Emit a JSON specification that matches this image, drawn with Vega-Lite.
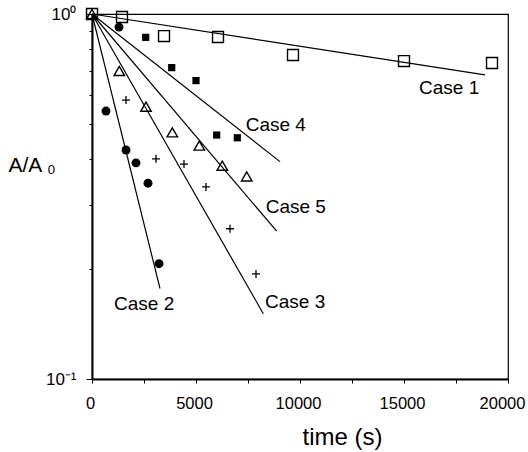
{
  "$schema": "https://vega.github.io/schema/vega-lite/v6.json",
  "autosize": {"type": "none"},
  "padding": {"left": 92, "top": 14, "right": 20, "bottom": 73},
  "width": 416,
  "height": 365,
  "background": "white",
  "config": {
    "font": "Liberation Sans",
    "view": {"stroke": "black", "strokeWidth": 1.2},
    "axis": {"domainColor": "black", "domainWidth": 2, "tickColor": "black", "labelColor": "black", "titleColor": "black", "grid": false, "labelFont": "Liberation Sans", "titleFont": "Liberation Sans", "titleFontWeight": "normal"}
  },
  "datasets": {
    "points": [
      {"case": "Case 1", "t": 0, "r": 1.0},
      {"case": "Case 1", "t": 1442, "r": 0.981},
      {"case": "Case 1", "t": 3462, "r": 0.870},
      {"case": "Case 1", "t": 6058, "r": 0.865},
      {"case": "Case 1", "t": 9663, "r": 0.772},
      {"case": "Case 1", "t": 15000, "r": 0.743},
      {"case": "Case 1", "t": 19231, "r": 0.734},
      {"case": "Case 2", "t": 673, "r": 0.542},
      {"case": "Case 2", "t": 1298, "r": 0.921},
      {"case": "Case 2", "t": 1635, "r": 0.424},
      {"case": "Case 2", "t": 2115, "r": 0.391},
      {"case": "Case 2", "t": 2692, "r": 0.344},
      {"case": "Case 2", "t": 3221, "r": 0.207},
      {"case": "Case 3", "t": 1635, "r": 0.581},
      {"case": "Case 3", "t": 3077, "r": 0.401},
      {"case": "Case 3", "t": 4423, "r": 0.388},
      {"case": "Case 3", "t": 5481, "r": 0.336},
      {"case": "Case 3", "t": 6635, "r": 0.258},
      {"case": "Case 3", "t": 7885, "r": 0.194},
      {"case": "Case 4", "t": 2582, "r": 0.863},
      {"case": "Case 4", "t": 3832, "r": 0.713},
      {"case": "Case 4", "t": 5000, "r": 0.657},
      {"case": "Case 4", "t": 5995, "r": 0.466},
      {"case": "Case 4", "t": 6986, "r": 0.458},
      {"case": "Case 5", "t": 0, "r": 1.0},
      {"case": "Case 5", "t": 1313, "r": 0.698},
      {"case": "Case 5", "t": 2596, "r": 0.557},
      {"case": "Case 5", "t": 3861, "r": 0.474},
      {"case": "Case 5", "t": 5159, "r": 0.436},
      {"case": "Case 5", "t": 6264, "r": 0.384},
      {"case": "Case 5", "t": 7438, "r": 0.359}
    ],
    "fits": [
      {"case": "Case 1", "t": 0, "r": 1.0},
      {"case": "Case 1", "t": 18894, "r": 0.681},
      {"case": "Case 2", "t": 0, "r": 1.0},
      {"case": "Case 2", "t": 3269, "r": 0.177},
      {"case": "Case 3", "t": 0, "r": 1.0},
      {"case": "Case 3", "t": 8236, "r": 0.151},
      {"case": "Case 4", "t": 0, "r": 1.0},
      {"case": "Case 4", "t": 9038, "r": 0.394},
      {"case": "Case 5", "t": 0, "r": 1.0},
      {"case": "Case 5", "t": 8880, "r": 0.254}
    ],
    "labels": [
      {"case": "Case 1", "t": 15721, "r": 0.627},
      {"case": "Case 2", "t": 1058, "r": 0.160},
      {"case": "Case 3", "t": 8317, "r": 0.163},
      {"case": "Case 4", "t": 7389, "r": 0.496},
      {"case": "Case 5", "t": 8351, "r": 0.296}
    ]
  },
  "encoding": {
    "x": {
      "field": "t", "type": "quantitative",
      "scale": {"domain": [0, 20000], "nice": false, "zero": false},
      "axis": {
        "title": "time (s)", "titleFontSize": 24, "titleX": 250, "titleY": 58, "titleBaseline": "middle", "titleAlign": "center",
        "values": [0, 2500, 5000, 7500, 10000, 12500, 15000, 17500, 20000],
        "labelExpr": "datum.value % 5000 == 0 ? datum.label : ''",
        "format": "d",
        "labelOffset": {"condition": {"test": "datum.value == 20000", "value": -6}, "value": -2},
        "labelFontSize": 16.5, "tickSize": 4, "labelPadding": 12, "labelFlush": false
      }
    },
    "y": {
      "field": "r", "type": "quantitative",
      "scale": {"type": "log", "domain": [0.1, 1], "nice": false},
      "axis": {
        "title": "A/A ₀", "titleFontSize": 21, "titleAngle": 0, "titleX": -84, "titleY": 151, "titleAlign": "left", "titleBaseline": "middle",
        "values": [0.1, 0.2, 0.3, 0.4, 0.5, 0.6, 0.7, 0.8, 0.9, 1],
        "labelExpr": "datum.value == 1 ? '10⁰' : (datum.value < 0.15 ? '10⁻¹' : '')",
        "tickSize": {"condition": {"test": "datum.value == 1 || datum.value < 0.15", "value": 6}, "value": 3},
        "labelFontSize": 17, "labelPadding": 10, "labelFlush": false
      }
    }
  },
  "layer": [
    {
      "data": {"name": "fits"},
      "mark": {"type": "line", "color": "black", "strokeWidth": 1.2},
      "encoding": {"detail": {"field": "case"}}
    },
    {
      "data": {"name": "points"},
      "transform": [{"filter": "datum.case == 'Case 1'"}],
      "mark": {"type": "point", "shape": "square", "size": 120, "filled": false, "color": "black", "strokeWidth": 1.4, "opacity": 1}
    },
    {
      "data": {"name": "points"},
      "transform": [{"filter": "datum.case == 'Case 2'"}],
      "mark": {"type": "point", "shape": "circle", "size": 80, "filled": true, "color": "black", "opacity": 1}
    },
    {
      "data": {"name": "points"},
      "transform": [{"filter": "datum.case == 'Case 3'"}],
      "mark": {"type": "point", "shape": "M-1,0L1,0M0,-1L0,1", "size": 64, "filled": false, "color": "black", "strokeWidth": 1.3, "opacity": 1}
    },
    {
      "data": {"name": "points"},
      "transform": [{"filter": "datum.case == 'Case 4'"}],
      "mark": {"type": "point", "shape": "square", "size": 52, "filled": true, "color": "black", "opacity": 1}
    },
    {
      "data": {"name": "points"},
      "transform": [{"filter": "datum.case == 'Case 5'"}],
      "mark": {"type": "point", "shape": "triangle-up", "size": 110, "filled": false, "color": "black", "strokeWidth": 1.4, "opacity": 1}
    },
    {
      "data": {"name": "labels"},
      "mark": {"type": "text", "align": "left", "baseline": "middle", "fontSize": 19, "color": "black"},
      "encoding": {"text": {"field": "case"}}
    }
  ]
}
